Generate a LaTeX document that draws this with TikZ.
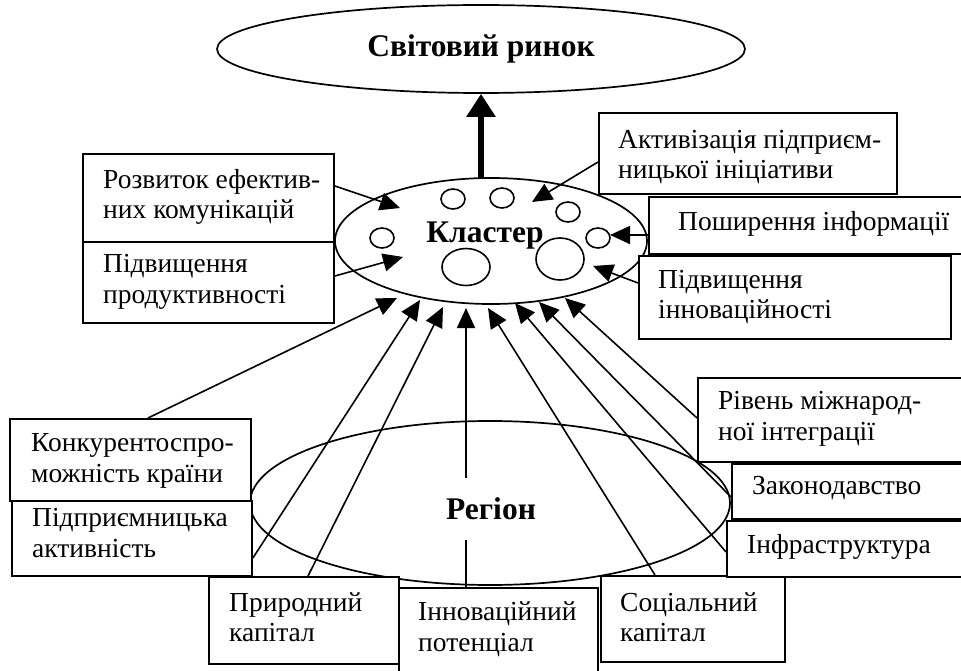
\documentclass[tikz,border=0pt]{standalone}
\usepackage{fontspec}
\setmainfont{Liberation Serif}
\usetikzlibrary{shapes.geometric,arrows.meta,calc}
\begin{document}
\begin{tikzpicture}[x=1pt,y=-1pt,
  box/.style={draw, line width=1.9pt, fill=white, anchor=north west, inner sep=0pt},
  lbl/.style={anchor=west, align=left, inner sep=0pt, font=\fontsize{27.5}{30.5}\selectfont},
  oval/.style={draw, ellipse, line width=1.7pt, inner sep=0pt},
  dot/.style={draw, ellipse, line width=1.6pt, inner sep=0pt},
  conn/.style={line width=1.6pt, -{Triangle[length=20pt,width=18pt]}},
  thick arrow/.style={line width=6.5pt, -{Triangle[length=23pt,width=28pt]}},
  big/.style={font=\fontsize{31.5}{36}\selectfont\bfseries}
]
\useasboundingbox (0,0) rectangle (961,671);
\clip (0,0) rectangle (961,671);

% ellipses
\node[oval, minimum width=528, minimum height=88, big] (wm) at (481,49) {Світовий ринок};
\node[oval, minimum width=480, minimum height=164] (rg) at (490,503) {};
\node[oval, minimum width=312, minimum height=126] (cl) at (491,241) {};
\node[big, inner sep=0pt] (clt) at (485,236) {Кластер};

% small circles in cluster
\node[dot, minimum width=24, minimum height=20] (c1) at (453,199) {};
\node[dot, minimum width=24, minimum height=20] (c2) at (502,198) {};
\node[dot, minimum width=24, minimum height=20] (c3) at (568,212) {};
\node[dot, minimum width=24, minimum height=20] (c4) at (382,238) {};
\node[dot, minimum width=24, minimum height=20] (c5) at (598,238) {};
\node[dot, minimum width=48, minimum height=37] (c6) at (466,267) {};
\node[dot, minimum width=48, minimum height=42] (c7) at (560,259) {};

% boxes
\node[box, minimum width=251, minimum height=88] (r1) at (82,153) {};
\node[box, minimum width=251, minimum height=81] (r2) at (82,241) {};
\node[box, minimum width=298, minimum height=81] (a)  at (598,112) {};
\node[box, minimum width=330, minimum height=57] (p)  at (648,196) {};
\node[box, minimum width=312, minimum height=83] (pi) at (638,255) {};
\node[box, minimum width=241, minimum height=82] (k)  at (9,418) {};
\node[box, minimum width=240, minimum height=75] (pa) at (11,500) {};
\node[box, minimum width=190, minimum height=87] (pr) at (208,576) {};
\node[box, minimum width=199, minimum height=90] (in) at (398,587) {};
\node[box, minimum width=184, minimum height=86] (s)  at (600,575) {};
\node[box, minimum width=280, minimum height=84] (rv) at (697,377) {};
\node[box, minimum width=250, minimum height=55] (z)  at (731,463) {};
\node[box, minimum width=250, minimum height=56] (if) at (726,520) {};

% labels
\node[lbl] (tr1) at ($(r1.north west)+(21,44)$) {Розвиток ефектив-\\них комунікацій};
\node[lbl] (tr2) at ($(r2.north west)+(21,41)$) {Підвищення\\продуктивності};
\node[lbl] (ta)  at ($(a.north west)+(20,45)$) {Активізація підприєм-\\ницької ініціативи};
\node[lbl] (tp)  at ($(p.north west)+(30,28)$) {Поширення інформації};
\node[lbl] (tpi) at ($(pi.north west)+(20,42)$) {Підвищення\\інноваційності};
\node[lbl] (tk)  at ($(k.north west)+(22,43)$) {Конкурентоспро-\\можність країни};
\node[lbl] (tpa) at ($(pa.north west)+(21,33)$) {Підприємницька\\активність};
\node[lbl] (tpr) at ($(pr.north west)+(21,41)$) {Природний\\капітал};
\node[lbl] (tin) at ($(in.north west)+(20,42)$) {Інноваційний\\потенціал};
\node[lbl] (ts)  at ($(s.north west)+(20,42)$) {Соціальний\\капітал};
\node[lbl] (trv) at ($(rv.north west)+(21,42)$) {Рівень міжнарод-\\ної інтеграції};
\node[lbl] (tz)  at ($(z.north west)+(21,25)$) {Законодавство};
\node[lbl] (tif) at ($(if.north west)+(21,27)$) {Інфраструктура};

% connectors
\draw[thick arrow] ($(cl.north)+(-10,1)$) -- (wm.south);
\draw[conn] ($(r1.north east)+(0,33)$) -- ($(cl.center)+(-91,-33)$);
\draw[conn] ($(r2.north east)+(0,35)$) -- ($(cl.center)+(-88,16)$);
\draw[conn] ($(a.north west)+(0,50)$) -- ($(cl.center)+(41,-39)$);
\draw[conn] ($(p.north west)+(0,39)$) -- ($(cl.center)+(119,-6)$);
\draw[conn] ($(pi.north west)+(0,28)$) -- ($(cl.center)+(102,25)$);
\draw[conn] ($(k.north west)+(139,0)$) -- ($(cl.center)+(-94,57)$);
\draw[conn] ($(pa.north east)+(0,58)$) -- ($(cl.center)+(-71,59)$);
\draw[conn] ($(pr.north west)+(100,0)$) -- ($(cl.center)+(-48,66)$);
\draw[conn] ($(in.north west)+(68,0)$) -- ($(cl.center)+(-25,67)$);
\draw[conn] ($(s.north west)+(55,0)$) -- ($(cl.center)+(-3,67)$);
\draw[conn] ($(if.north west)+(0,32)$) -- ($(cl.center)+(24,62)$);
\draw[conn] ($(z.north west)+(0,34)$) -- ($(cl.center)+(48,61)$);
\draw[conn] ($(rv.north west)+(0,41)$) -- ($(cl.center)+(74,57)$);

\node[big, fill=white, inner xsep=2pt, minimum height=62] (rgt) at (491,509) {Регіон};
\end{tikzpicture}
\end{document}
